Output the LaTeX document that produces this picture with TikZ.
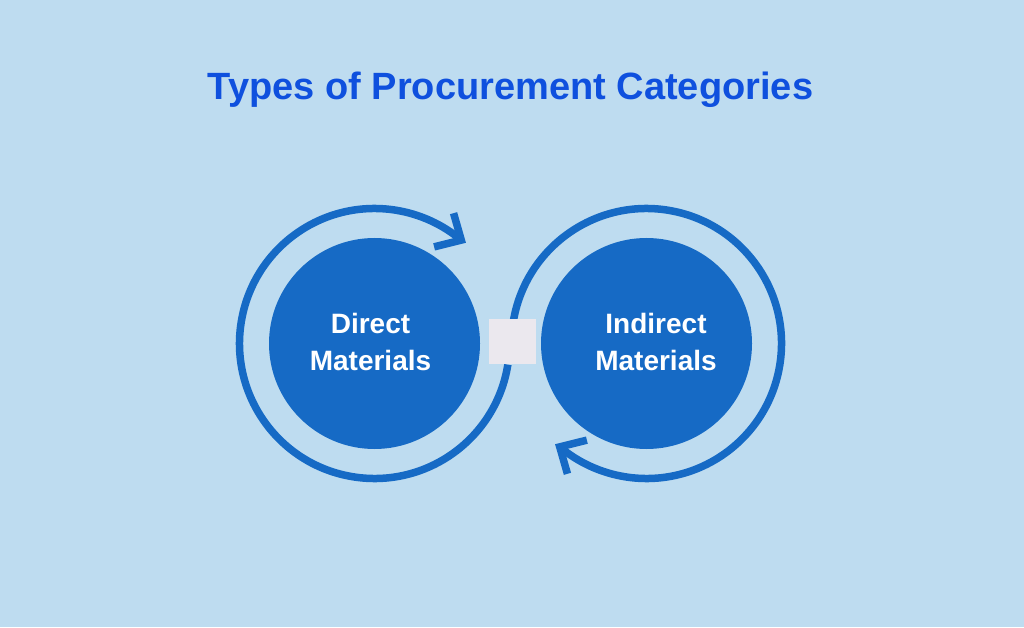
\documentclass[tikz,border=0pt]{standalone}
\usepackage{fontspec}
\setmainfont{Liberation Sans}
\usetikzlibrary{calc}
\definecolor{bg}{HTML}{BEDCF0}
\definecolor{blu}{HTML}{166AC5}
\definecolor{ttl}{HTML}{0F50DE}
\definecolor{sq}{HTML}{EBE8EE}
\begin{document}
\begin{tikzpicture}[x=1pt,y=1pt,
  circ/.style={circle,fill=blu,minimum size=211pt,inner sep=0pt},
  lbl/.style={text=white,font=\fontsize{28}{34}\selectfont\bfseries,inner sep=0pt,anchor=base},
  ring/.style={draw=blu,line width=7.5pt},
  barb/.style={draw=blu,line width=7.5pt,line join=miter,line cap=butt}]
\fill[bg] (0,0) rectangle (1024,627);
\useasboundingbox (0,0) rectangle (1024,627);
\node[text=ttl,font=\fontsize{38}{40}\selectfont\bfseries,inner sep=0pt,anchor=base] (title) at (510.5,527) {Types of Procurement Categories};
\node[circ] (dm) at (374.5,283.5) {};
\node[circ] (im) at (646.5,283.5) {};
% rings
\draw[ring] (dm.center) ++(-9:135) arc[start angle=-9,end angle=-310,radius=135];
\draw[ring] (im.center) ++(171:135) arc[start angle=171,end angle=-130,radius=135];
\coordinate (t1) at ($(dm.center)+(50:135)$);
\coordinate (t2) at ($(im.center)+(230:135)$);
\draw[barb] ($(t1)+(106:28)$) -- (t1) -- ($(t1)+(194:28)$);
\draw[barb] ($(t2)+(286:28)$) -- (t2) -- ($(t2)+(14:28)$);
% square
\node[fill=sq,minimum width=47pt,minimum height=45pt,inner sep=0pt] (sqr) at (512.5,285.5) {};
% labels
\node[lbl] (d1) at (370.5,294) {Direct};
\node[lbl] (d2) at (370.5,257) {Materials};
\node[lbl] (i1) at (656,294) {Indirect};
\node[lbl] (i2) at (656,257) {Materials};
\end{tikzpicture}
\end{document}
